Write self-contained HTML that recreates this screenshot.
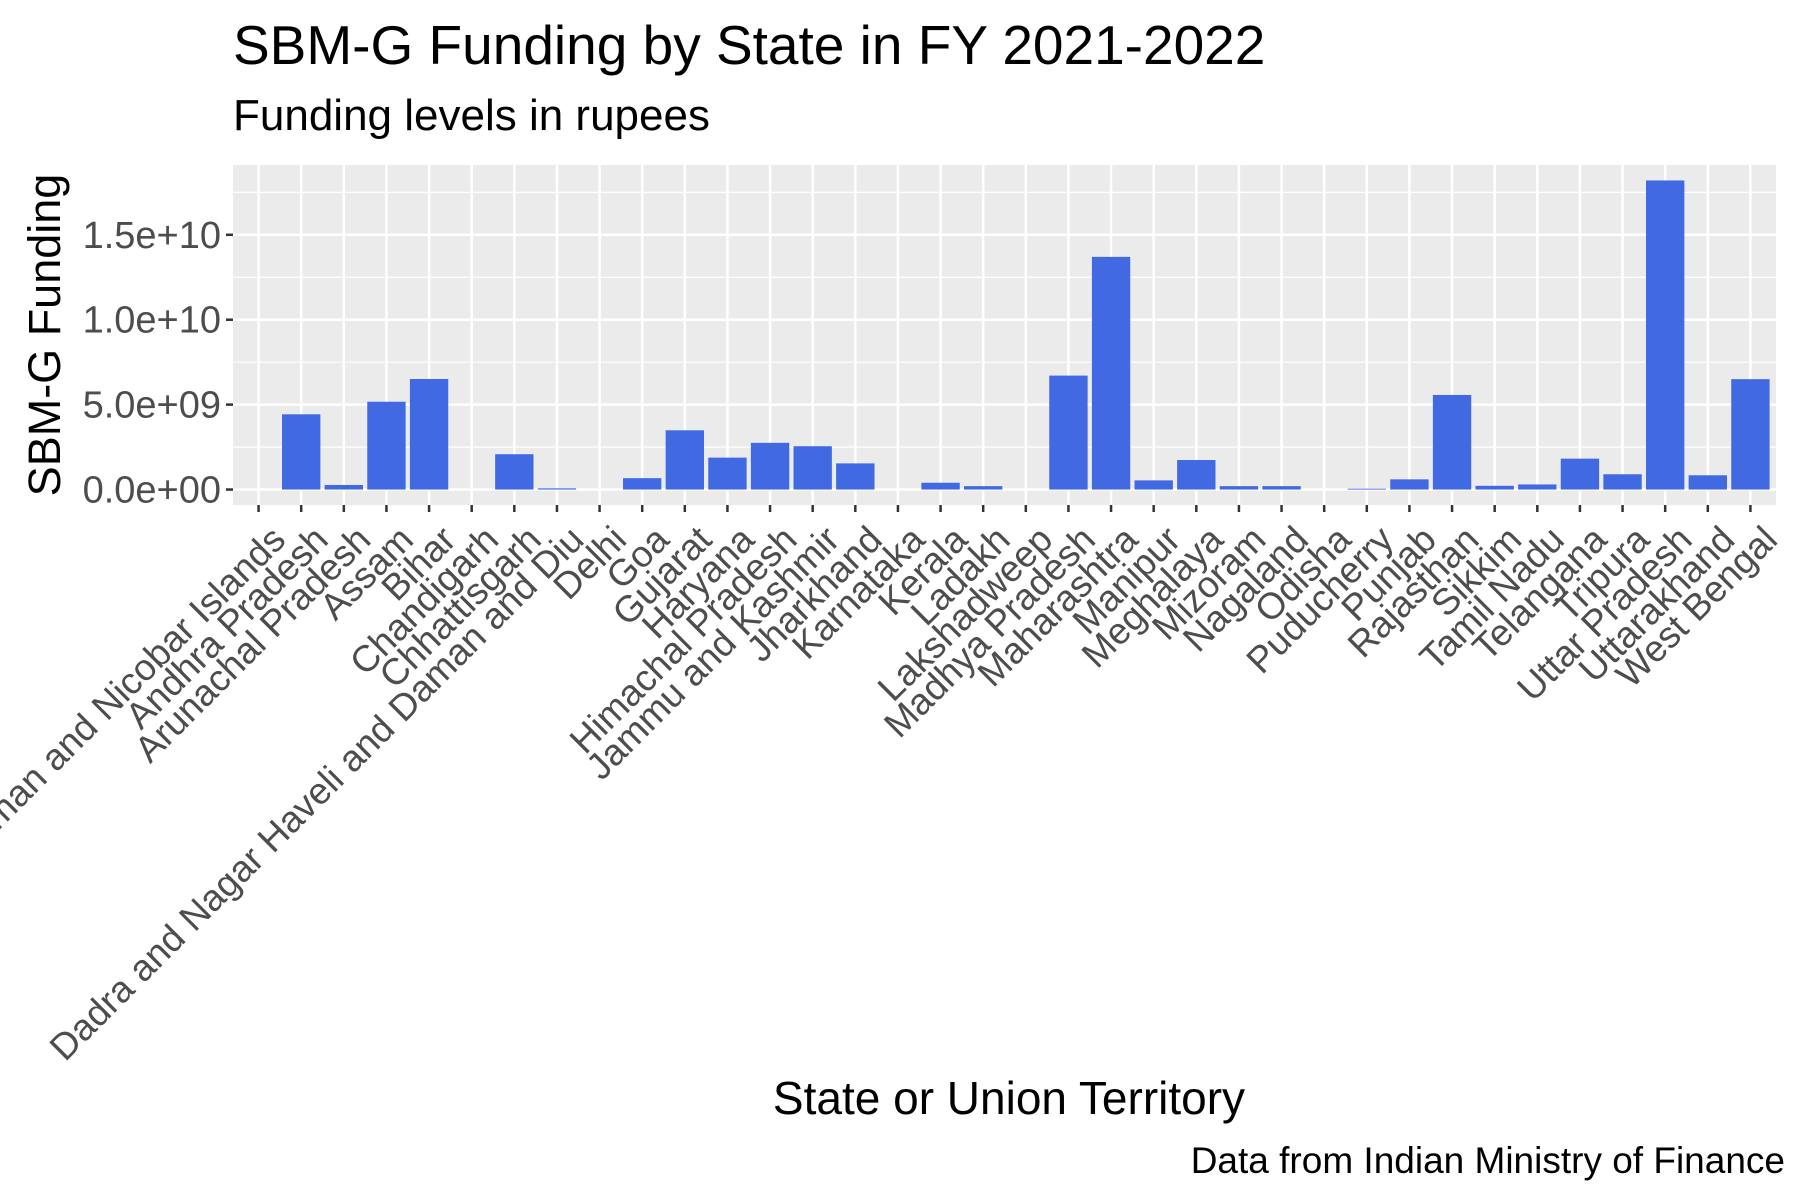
<!DOCTYPE html>
<html><head><meta charset="utf-8"><style>
html,body{margin:0;padding:0;background:#fff}
svg{display:block;font-family:"Liberation Sans",Arial,sans-serif}
</style></head><body>
<svg id="chart" width="1800" height="1200" viewBox="0 0 1800 1200">
<text x="233" y="64" font-size="55" fill="#000">SBM-G Funding by State in FY 2021-2022</text>
<text x="233" y="130" font-size="44" fill="#000">Funding levels in rupees</text>
<rect x="233" y="165" width="1543" height="340" fill="#ebebeb"/>
<g id="grid"></g><g id="bars"></g><g id="axes"></g>
<text x="1009" y="1114" font-size="46" text-anchor="middle" fill="#000">State or Union Territory</text>
<text transform="translate(60,335) rotate(-90)" font-size="45" text-anchor="middle" fill="#000">SBM-G Funding</text>
<text x="1785" y="1173" font-size="37" text-anchor="end" fill="#000">Data from Indian Ministry of Finance</text>
</svg>
<script>
const categories = ["Andaman and Nicobar Islands","Andhra Pradesh","Arunachal Pradesh","Assam","Bihar","Chandigarh","Chhattisgarh","Dadra and Nagar Haveli and Daman and Diu","Delhi","Goa","Gujarat","Haryana","Himachal Pradesh","Jammu and Kashmir","Jharkhand","Karnataka","Kerala","Ladakh","Lakshadweep","Madhya Pradesh","Maharashtra","Manipur","Meghalaya","Mizoram","Nagaland","Odisha","Puducherry","Punjab","Rajasthan","Sikkim","Tamil Nadu","Telangana","Tripura","Uttar Pradesh","Uttarakhand","West Bengal"];
const funding = [0,4.43e9,0.27e9,5.17e9,6.51e9,0,2.08e9,0.07e9,0,0.67e9,3.49e9,1.88e9,2.75e9,2.55e9,1.54e9,0,0.4e9,0.2e9,0,6.71e9,13.7e9,0.54e9,1.74e9,0.2e9,0.2e9,0,0.05e9,0.6e9,5.57e9,0.22e9,0.3e9,1.82e9,0.9e9,18.2e9,0.84e9,6.5e9];
const yTicks = [0,5e9,1e10,1.5e10];
const yTickLabels = ["0.0e+00","5.0e+09","1.0e+10","1.5e+10"];

const NS="http://www.w3.org/2000/svg";
const PL=233,PR=1776,PT=165,PB=505;
const n=categories.length;
const step=(PR-PL)/(n-1+1.2);
function xs(i){return PL+step*(0.6+i);}
const maxV=Math.max(...funding);
const yMin=-0.05*maxV, yMax=maxV*1.05;
function ys(v){return PB-(v-yMin)/(yMax-yMin)*(PB-PT);}
function mk(tag,attrs,parent){const e=document.createElementNS(NS,tag);for(const k in attrs)e.setAttribute(k,attrs[k]);parent.appendChild(e);return e;}
const grid=document.getElementById('grid'),bars=document.getElementById('bars'),axes=document.getElementById('axes');
for(let i=0;i<yTicks.length;i++){
  const mv=yTicks[i]+2.5e9;
  if(ys(mv)>PT){const l=mk('line',{x1:PL,x2:PR,y1:ys(mv),y2:ys(mv),stroke:'#fff','stroke-width':1.2},grid);
  
  }
}
yTicks.forEach((v,i)=>{
  const y=ys(v);
  const g=mk('line',{x1:PL,x2:PR,y1:y,y2:y,stroke:'#fff','stroke-width':2.5},grid);
  
  
  const t=mk('line',{x1:PL-7,x2:PL,y1:y,y2:y,stroke:'#333','stroke-width':2.5},axes);
  
  
  const tx=mk('text',{x:PL-12,y:y+13,'font-size':38,'text-anchor':'end',fill:'#4d4d4d'},axes);
  tx.textContent=yTickLabels[i];
  
  
});
categories.forEach((c,i)=>{
  const x=xs(i);
  const g=mk('line',{x1:x,x2:x,y1:PT,y2:PB,stroke:'#fff','stroke-width':2.5},grid);
  
  
  const v=funding[i];
  const w=step*0.9;
  if(v>0){
    const r=mk('rect',{x:x-w/2,y:ys(v),width:w,height:Math.max(ys(0)-ys(v),0.5),fill:'#4169E1'},bars);
    
    
  }
  const t=mk('line',{x1:x,x2:x,y1:PB,y2:PB+7,stroke:'#333','stroke-width':2.5},axes);
  
  
  const tx=mk('text',{'font-size':37,'text-anchor':'end',fill:'#4d4d4d',transform:'translate('+(x+10)+','+(PB+18)+') rotate(-45)',dy:'0.72em'},axes);
  tx.textContent=c;
  
  
});
</script>
</body></html>
